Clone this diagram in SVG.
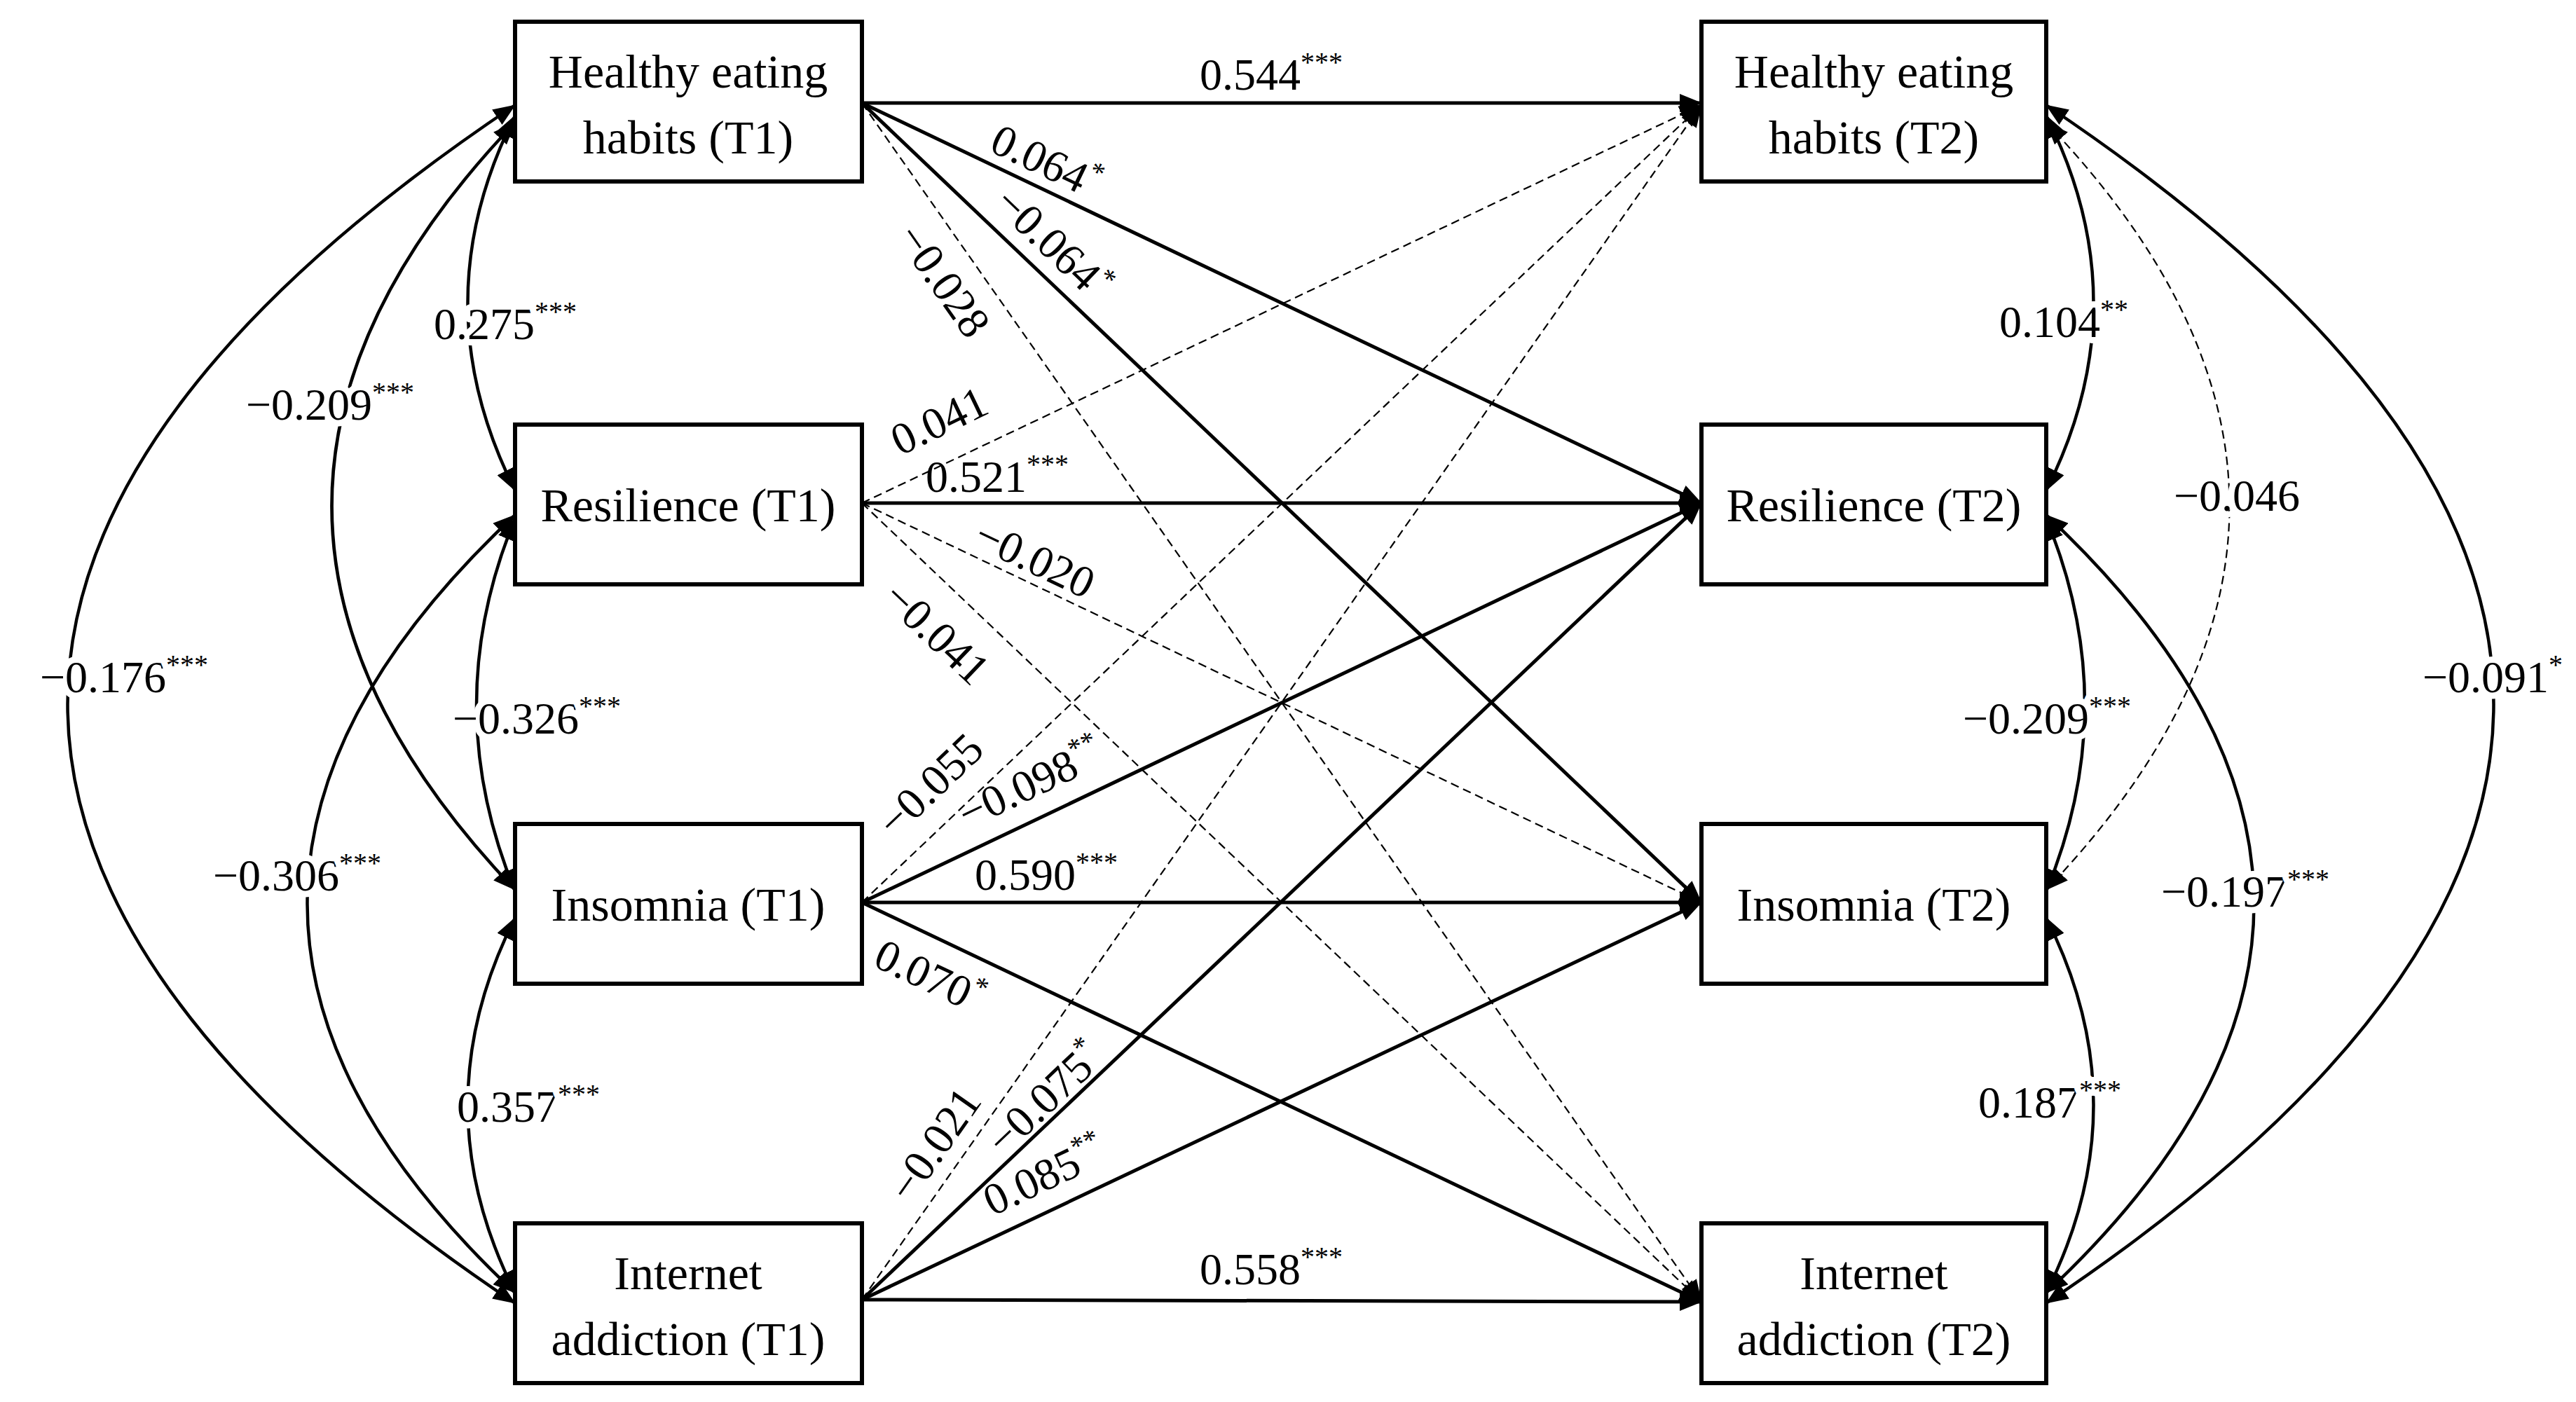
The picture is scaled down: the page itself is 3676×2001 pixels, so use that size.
<svg xmlns="http://www.w3.org/2000/svg" width="3676" height="2001" viewBox="0 0 3676 2001">
<style>
.box{fill:#fff;stroke:#000;stroke-width:6}
.nt{font-family:"Liberation Serif",serif;font-size:68px;text-anchor:middle;fill:#000}
.lb{font-family:"Liberation Serif",serif;font-size:64px;text-anchor:middle;fill:#000}
.cv{font-family:"Liberation Serif",serif;font-size:64px;text-anchor:middle;fill:#000;stroke:#fff;stroke-width:18;paint-order:stroke;stroke-linejoin:round}
.s{fill:none;stroke:#000;stroke-width:5;marker-end:url(#ah)}
.d{fill:none;stroke:#000;stroke-width:2.2;stroke-dasharray:12 7;marker-end:url(#ah)}
.c{fill:none;stroke:#000;stroke-width:4.5;marker-start:url(#ah);marker-end:url(#ah)}
.cd{fill:none;stroke:#000;stroke-width:2.2;stroke-dasharray:12 7;marker-start:url(#ah);marker-end:url(#ah)}
</style>
<defs>
<marker id="ah" viewBox="0 0 32 26" refX="31" refY="13" markerWidth="32" markerHeight="26" markerUnits="userSpaceOnUse" orient="auto-start-reverse">
<path d="M0,0 L32,13 L0,26 z" fill="#000"/>
</marker>
</defs>
<rect width="3676" height="2001" fill="#fff"/>
<g id="connectors">
<path class="s" d="M1230,147 L2428,147"/>
<path class="s" d="M1230,147 L2428,718"/>
<path class="s" d="M1230,147 L2428,1288"/>
<path class="d" d="M1230,147 L2428,1858"/>
<path class="d" d="M1230,718 L2428,150"/>
<path class="s" d="M1230,718 L2428,718"/>
<path class="d" d="M1230,718 L2428,1288"/>
<path class="d" d="M1230,718 L2428,1858"/>
<path class="d" d="M1230,1288 L2428,150"/>
<path class="s" d="M1230,1288 L2428,718"/>
<path class="s" d="M1230,1288 L2428,1288"/>
<path class="s" d="M1230,1288 L2428,1858"/>
<path class="d" d="M1230,1855 L2428,150"/>
<path class="s" d="M1230,1855 L2428,718"/>
<path class="s" d="M1230,1855 L2428,1288"/>
<path class="s" d="M1230,1855 L2428,1858"/>
<path class="c" d="M735,165 Q600,432 735,700"/>
<path class="c" d="M735,175 Q212,722 735,1270"/>
<path class="c" d="M735,740 Q625,1006 735,1272"/>
<path class="c" d="M735,735 Q142,1290 735,1845"/>
<path class="c" d="M735,1310 Q600,1577 735,1845"/>
<path class="c" d="M735,150 Q-542,1005 735,1860"/>
<path class="c" d="M2920,165 Q3055,432 2920,700"/>
<path class="cd" d="M2920,175 Q3443,722 2920,1270"/>
<path class="c" d="M2920,740 Q3030,1006 2920,1272"/>
<path class="c" d="M2920,735 Q3513,1290 2920,1845"/>
<path class="c" d="M2920,1310 Q3055,1577 2920,1845"/>
<path class="c" d="M2920,150 Q4197,1005 2920,1860"/>
</g>
<g id="edge-labels">
<text class="lb" x="1814" y="128">0.544<tspan font-size="40" dy="-26">***</tspan></text>
<text class="lb" transform="translate(1493,230) rotate(25.6)" dy="22">0.064<tspan font-size="40" dy="-26">*</tspan></text>
<text class="lb" transform="translate(1503,347) rotate(43.8)" dy="22">−0.064<tspan font-size="40" dy="-26">*</tspan></text>
<text class="lb" transform="translate(1347,400) rotate(55)" dy="22">−0.028</text>
<text class="lb" transform="translate(1340,600) rotate(-25.6)" dy="22">0.041</text>
<text class="lb" x="1423" y="702">0.521<tspan font-size="40" dy="-26">***</tspan></text>
<text class="lb" transform="translate(1477,797) rotate(25.5)" dy="22">−0.020</text>
<text class="lb" transform="translate(1337,903) rotate(43.6)" dy="22">−0.041</text>
<text class="lb" transform="translate(1327,1120) rotate(-43.8)" dy="22">−0.055</text>
<text class="lb" transform="translate(1470,1117) rotate(-25.5)" dy="22">−0.098<tspan font-size="40" dy="-26">**</tspan></text>
<text class="lb" x="1493" y="1270">0.590<tspan font-size="40" dy="-26">***</tspan></text>
<text class="lb" transform="translate(1327,1393) rotate(25.4)" dy="22">0.070<tspan font-size="40" dy="-26">*</tspan></text>
<text class="lb" transform="translate(1333,1633) rotate(-55)" dy="22">−0.021</text>
<text class="lb" transform="translate(1490,1567) rotate(-43.6)" dy="22">−0.075<tspan font-size="40" dy="-26">*</tspan></text>
<text class="lb" transform="translate(1490,1677) rotate(-25.4)" dy="22">0.085<tspan font-size="40" dy="-26">**</tspan></text>
<text class="lb" x="1814" y="1833">0.558<tspan font-size="40" dy="-26">***</tspan></text>
<text class="cv" x="721" y="484">0.275<tspan font-size="40" dy="-26">***</tspan></text>
<text class="cv" x="471" y="599">−0.209<tspan font-size="40" dy="-26">***</tspan></text>
<text class="cv" x="766" y="1047">−0.326<tspan font-size="40" dy="-26">***</tspan></text>
<text class="cv" x="424" y="1271">−0.306<tspan font-size="40" dy="-26">***</tspan></text>
<text class="cv" x="754" y="1601">0.357<tspan font-size="40" dy="-26">***</tspan></text>
<text class="cv" x="177" y="988">−0.176<tspan font-size="40" dy="-26">***</tspan></text>
<text class="cv" x="2945" y="481">0.104<tspan font-size="40" dy="-26">**</tspan></text>
<text class="cv" x="3192" y="729">−0.046</text>
<text class="cv" x="2921" y="1047">−0.209<tspan font-size="40" dy="-26">***</tspan></text>
<text class="cv" x="3204" y="1294">−0.197<tspan font-size="40" dy="-26">***</tspan></text>
<text class="cv" x="2925" y="1595">0.187<tspan font-size="40" dy="-26">***</tspan></text>
<text class="cv" x="3557" y="988">−0.091<tspan font-size="40" dy="-26">*</tspan></text>
</g>
<g id="n-heh1"><rect class="box" x="735" y="31" width="495" height="228"/><text class="nt" x="982" y="125">Healthy eating</text><text class="nt" x="982" y="219">habits (T1)</text></g>
<g id="n-res1"><rect class="box" x="735" y="606" width="495" height="228"/><text class="nt" x="982" y="744">Resilience (T1)</text></g>
<g id="n-ins1"><rect class="box" x="735" y="1176" width="495" height="228"/><text class="nt" x="982" y="1314">Insomnia (T1)</text></g>
<g id="n-ia1"><rect class="box" x="735" y="1746" width="495" height="228"/><text class="nt" x="982" y="1840">Internet</text><text class="nt" x="982" y="1934">addiction (T1)</text></g>
<g id="n-heh2"><rect class="box" x="2428" y="31" width="492" height="228"/><text class="nt" x="2674" y="125">Healthy eating</text><text class="nt" x="2674" y="219">habits (T2)</text></g>
<g id="n-res2"><rect class="box" x="2428" y="606" width="492" height="228"/><text class="nt" x="2674" y="744">Resilience (T2)</text></g>
<g id="n-ins2"><rect class="box" x="2428" y="1176" width="492" height="228"/><text class="nt" x="2674" y="1314">Insomnia (T2)</text></g>
<g id="n-ia2"><rect class="box" x="2428" y="1746" width="492" height="228"/><text class="nt" x="2674" y="1840">Internet</text><text class="nt" x="2674" y="1934">addiction (T2)</text></g>
</svg>
